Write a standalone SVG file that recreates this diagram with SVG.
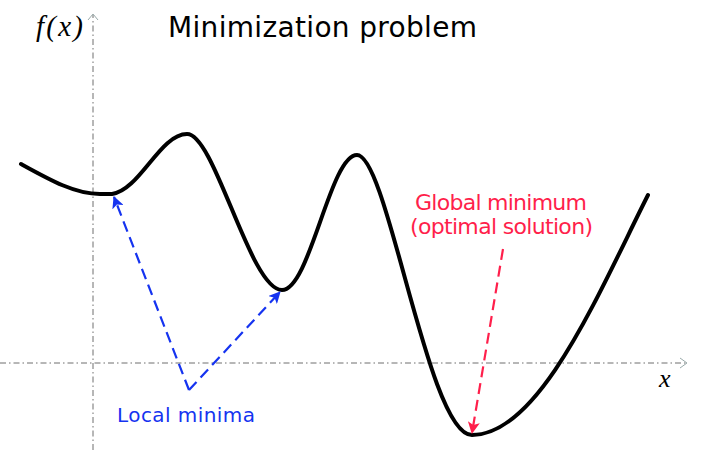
<svg xmlns="http://www.w3.org/2000/svg" width="703" height="450" viewBox="0 0 703 450">
<defs>
<style>
.axis{stroke:#6e6e6e;stroke-width:1;fill:none;stroke-dasharray:6 3 1.5 3}
.axhead{stroke:#9aa;stroke-width:1;fill:none}
.curve{stroke:#000;stroke-width:4;fill:none;stroke-linecap:round;stroke-linejoin:round}
.blue{stroke:#1533f0;stroke-width:2.2;fill:none;stroke-dasharray:11 6}
.red{stroke:#ff1f4b;stroke-width:2.2;fill:none;stroke-dasharray:11 6}
.lbl{font-family:"DejaVu Sans","Noto Sans",sans-serif;font-size:20px}
.math{font-family:"Liberation Serif","DejaVu Serif",serif;font-style:italic;font-size:29px}
</style>
<marker id="ab" viewBox="0 0 12 12" refX="11" refY="6" markerWidth="12" markerHeight="12" markerUnits="userSpaceOnUse" orient="auto"><path d="M0,0 L12,6 L0,12 L3,6 Z" fill="#1533f0"/></marker>
<marker id="ar" viewBox="0 0 12 12" refX="11" refY="6" markerWidth="12" markerHeight="12" markerUnits="userSpaceOnUse" orient="auto"><path d="M0,0 L12,6 L0,12 L3,6 Z" fill="#ff1f4b"/></marker>
</defs>
<rect width="703" height="450" fill="#fff"/>
<g id="axes">
<line class="axis" x1="93" y1="450" x2="93" y2="15"/>
<path class="axhead" d="M88,20 L93,14 L98,20"/>
<line class="axis" x1="0" y1="363" x2="686" y2="363"/>
<path class="axhead" d="M680,358 L687,363 L680,368"/>
<text class="math" x="36" y="36" textLength="47" lengthAdjust="spacing">f(x)</text>
<text class="math" x="659" y="387" style="font-size:26px">x</text>
</g>
<g id="title"><text class="lbl" x="168" y="37" style="font-size:28px" textLength="309" lengthAdjust="spacing">Minimization problem</text></g>
<g id="curve"><path class="curve" d="M21,164 C50,180 75,194 100,194 L112,194 C140,190 160,134 187,134 C215,134 250,290 282,290 C310,290 330,155 357,155 C388,155 428,435 472,435 C540,435 600,290 648,195"/></g>
<g id="connectors">
<polyline class="blue" points="189,390 114,197" marker-end="url(#ab)"/>
<polyline class="blue" points="189,390 280,292" marker-end="url(#ab)"/>
<line class="red" x1="503" y1="249" x2="472" y2="433" marker-end="url(#ar)"/>
</g>
<g id="local-minima"><text class="lbl" x="117" y="422" fill="#1533f0" textLength="138" lengthAdjust="spacing">Local minima</text></g>
<g id="global-minimum">
<text class="lbl" x="415" y="210" fill="#ff1f4b" style="font-size:22px" textLength="172" lengthAdjust="spacing">Global minimum</text>
<text class="lbl" x="410" y="234" fill="#ff1f4b" style="font-size:22px" textLength="183" lengthAdjust="spacing">(optimal solution)</text>
</g>
</svg>
